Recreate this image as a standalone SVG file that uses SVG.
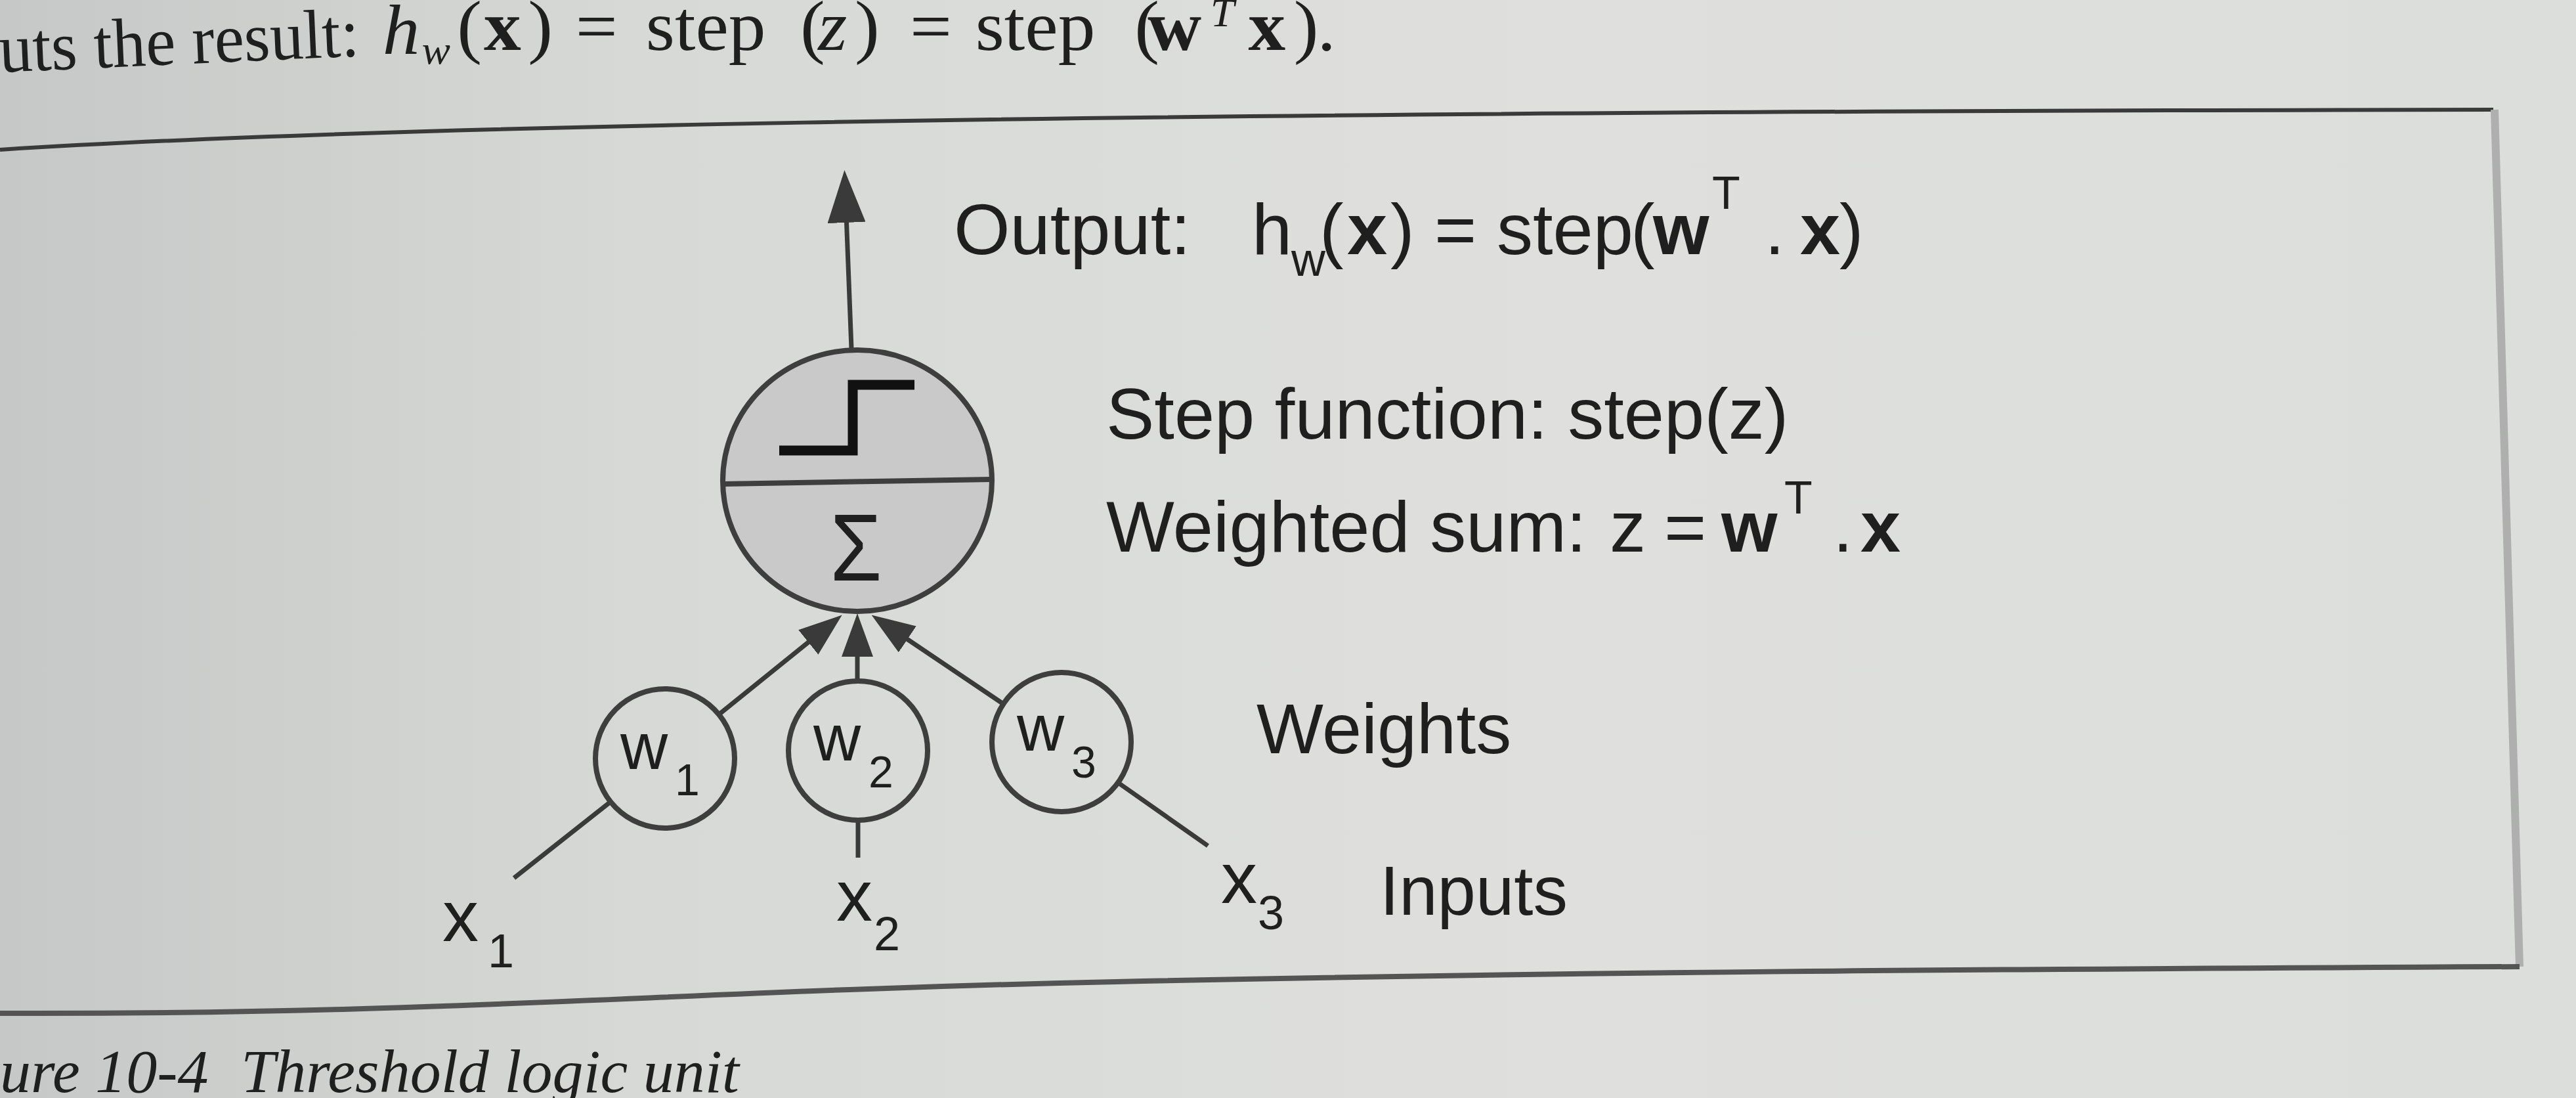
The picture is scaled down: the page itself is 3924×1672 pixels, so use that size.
<svg xmlns="http://www.w3.org/2000/svg" width="3924" height="1672" viewBox="0 0 3924 1672">
  <defs>
    <linearGradient id="paper" x1="0" y1="0" x2="1" y2="0">
      <stop offset="0" stop-color="#c6c8c7"/>
      <stop offset="0.25" stop-color="#d7d9d7"/>
      <stop offset="0.6" stop-color="#dfe0de"/>
      <stop offset="1" stop-color="#dcdedc"/>
    </linearGradient>
    <marker id="arrowBig" markerUnits="userSpaceOnUse" viewBox="0 0 80 58" markerWidth="80" markerHeight="58" refX="65" refY="29" orient="auto">
      <path d="M0,0 L80,29 L0,58 z" fill="#3a3a3a"/>
    </marker>
    <marker id="arrowSmall" markerUnits="userSpaceOnUse" viewBox="0 0 66 48" markerWidth="66" markerHeight="48" refX="51" refY="24" orient="auto">
      <path d="M0,0 L66,24 L0,48 z" fill="#3a3a3a"/>
    </marker>
  </defs>
  <style>
    .sans { font-family: "Liberation Sans", Arial, sans-serif; fill: #1f1f1f; }
    .serif { font-family: "Liberation Serif", "Times New Roman", serif; fill: #1f1f1f; }
    .lbl { font-size: 110px; }
    .sub { font-size: 72px; }
    .wl { font-size: 100px; }
    .wsub { font-size: 68px; }
    .b { font-weight: bold; }
    .i { font-style: italic; }
    .node { fill: none; stroke: #3e3e3e; stroke-width: 8; }
    .conn { fill: none; stroke: #3a3a3a; stroke-width: 7; }
  </style>

  <rect x="0" y="0" width="3924" height="1672" fill="url(#paper)"/>

  <!-- page text above the figure -->
  <text class="serif" font-size="106" transform="rotate(-2.6 0 110)" x="0" y="110" textLength="549" lengthAdjust="spacingAndGlyphs">uts the result:</text>
  <text class="serif" font-size="108" transform="scale(1.05 1)" y="76"><tspan class="i" x="555" y="82">h</tspan><tspan class="i" font-size="62" x="612" y="97">w</tspan><tspan x="663" y="76">(</tspan><tspan class="b" x="702">x</tspan><tspan x="766">)</tspan><tspan x="835">=</tspan><tspan x="937">step</tspan><tspan x="1161">(</tspan><tspan class="i" x="1187">z</tspan><tspan x="1240">)</tspan><tspan x="1320">=</tspan><tspan x="1415">step</tspan><tspan x="1646">(</tspan><tspan class="b" x="1665">w</tspan><tspan class="i" font-size="62" x="1756" y="40">T</tspan><tspan class="b" x="1811" y="76">x</tspan><tspan x="1877">)</tspan><tspan x="1911">.</tspan></text>

  <!-- frame -->
  <g id="frame" fill="none">
    <path d="M0,228 C500,196 1500,170 3798,167" stroke="#3a3a3a" stroke-width="6"/>
    <path d="M3800,167 L3838,1472" stroke="#aeafae" stroke-width="12"/>
    <path d="M0,1543 C700,1545 1000,1510 1700,1495 S3000,1476 3838,1472" stroke="#545454" stroke-width="8"/>
  </g>

  <!-- connectors -->
  <g id="connectors">
    <line class="conn" x1="1297" y1="531" x2="1287" y2="274" marker-end="url(#arrowBig)"/>
    <line class="conn" x1="1095" y1="1088" x2="1271" y2="946" marker-end="url(#arrowSmall)"/>
    <line class="conn" x1="1306" y1="1036" x2="1306" y2="949" marker-end="url(#arrowSmall)"/>
    <line class="conn" x1="1527" y1="1071" x2="1340" y2="945" marker-end="url(#arrowSmall)"/>
    <line class="conn" x1="930" y1="1221" x2="783" y2="1337"/>
    <line class="conn" x1="1307" y1="1251" x2="1307" y2="1306"/>
    <line class="conn" x1="1702" y1="1191" x2="1840" y2="1288"/>
  </g>

  <!-- threshold logic unit -->
  <g id="tlu">
    <ellipse cx="1306" cy="732" rx="205" ry="199" fill="#c8c9c8" stroke="#3e3e3e" stroke-width="8"/>
    <line x1="1102" y1="737" x2="1510" y2="730" stroke="#3e3e3e" stroke-width="8"/>
    <path d="M1187,686 L1299,686 L1299,586 L1393,586" fill="none" stroke="#111" stroke-width="15"/>
    <text class="sans" font-size="145" transform="translate(1304 884) scale(0.88 1)" x="0" y="0" text-anchor="middle">Σ</text>
  </g>

  <!-- weights -->
  <g id="w1">
    <circle class="node" cx="1013" cy="1155" r="106"/>
    <text class="sans wl" x="945" y="1171">w</text>
    <text class="sans wsub" x="1028" y="1211">1</text>
  </g>
  <g id="w2">
    <circle class="node" cx="1307" cy="1143" r="106"/>
    <text class="sans wl" x="1239" y="1158">w</text>
    <text class="sans wsub" x="1323" y="1199">2</text>
  </g>
  <g id="w3">
    <circle class="node" cx="1617" cy="1130" r="106"/>
    <text class="sans wl" x="1549" y="1143">w</text>
    <text class="sans wsub" x="1632" y="1184">3</text>
  </g>

  <!-- inputs -->
  <g id="x1">
    <text class="sans lbl" x="674" y="1433">x</text>
    <text class="sans sub" x="743" y="1473">1</text>
  </g>
  <g id="x2">
    <text class="sans lbl" x="1274" y="1402">x</text>
    <text class="sans sub" x="1331" y="1447">2</text>
  </g>
  <g id="x3">
    <text class="sans lbl" x="1860" y="1375">x</text>
    <text class="sans sub" x="1916" y="1415">3</text>
  </g>

  <!-- labels -->
  <g id="label-output">
    <text class="sans lbl" y="387"><tspan x="1453">Output:</tspan><tspan x="1907">h</tspan><tspan font-size="72" x="1967" y="420">w</tspan><tspan x="2010" y="387">(</tspan><tspan class="b" x="2052">x</tspan><tspan x="2118">)</tspan><tspan x="2185">=</tspan><tspan x="2280">step</tspan><tspan x="2484">(</tspan><tspan class="b" x="2518">w</tspan><tspan font-size="70" x="2608" y="318">T</tspan><tspan x="2688" y="387">.</tspan><tspan class="b" x="2742">x</tspan><tspan x="2802">)</tspan></text>
  </g>
  <g id="label-step">
    <text class="sans lbl" x="1685" y="668">Step function: step(z)</text>
  </g>
  <g id="label-sum">
    <text class="sans lbl" y="840"><tspan x="1685">Weighted sum:</tspan><tspan x="2452">z</tspan><tspan x="2535">=</tspan><tspan class="b" x="2622">w</tspan><tspan font-size="70" x="2718" y="782">T</tspan><tspan x="2792" y="840">.</tspan><tspan class="b" x="2834">x</tspan></text>
  </g>
  <g id="label-weights">
    <text class="sans" font-size="108" x="1914" y="1147">Weights</text>
  </g>
  <g id="label-inputs">
    <text class="sans" font-size="105" x="2102" y="1393">Inputs</text>
  </g>

  <!-- caption -->
  <text class="serif i" font-size="94" y="1663"><tspan x="0">ure 10-4</tspan><tspan x="367">Threshold logic unit</tspan></text>
</svg>
